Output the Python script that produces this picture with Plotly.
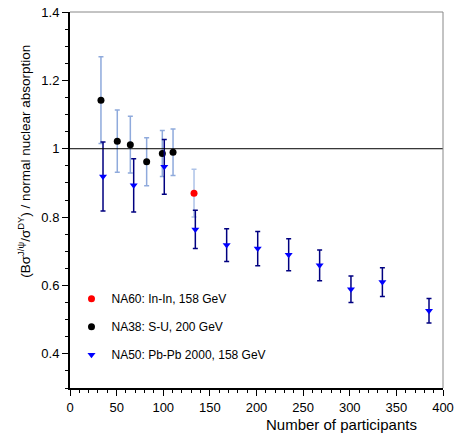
import plotly.graph_objects as go

# NA38: S-U, 200 GeV
na38_x = [33.2, 50.7, 64.7, 82.2, 99.0, 110.5]
na38_y = [1.142, 1.022, 1.012, 0.962, 0.986, 0.990]
na38_err = [0.127, 0.091, 0.083, 0.070, 0.067, 0.068]

# NA60: In-In, 158 GeV
na60_x = [133.0]
na60_y = [0.870]
na60_err = [0.070]

# NA50: Pb-Pb 2000, 158 GeV
na50_x = [35.4, 68.3, 101.1, 134.4, 168.0, 201.3, 234.5, 267.7, 301.3, 335.0, 385.0]
na50_y = [0.919, 0.893, 0.947, 0.764, 0.718, 0.708, 0.690, 0.659, 0.589, 0.610, 0.526]
na50_err = [0.101, 0.078, 0.080, 0.056, 0.048, 0.050, 0.047, 0.045, 0.039, 0.042, 0.036]

y_ticks = [0.4, 0.6, 0.8, 1.0, 1.2, 1.4]
y_tick_text = ["0.4", "0.6", "0.8", "1", "1.2", "1.4"]
x_ticks = [0, 50, 100, 150, 200, 250, 300, 350, 400]

FONT = "Liberation Sans, Arial, sans-serif"

fig = go.Figure()

fig.add_trace(go.Scatter(
    x=na38_x, y=na38_y, mode="markers", name="NA38: S-U, 200 GeV",
    legendgroup="b", legendrank=2,
    marker=dict(symbol="circle", size=7, color="black"),
    error_y=dict(type="data", array=na38_err, color="#8faadc", thickness=1.5, width=2.5),
))
fig.add_trace(go.Scatter(
    x=na60_x, y=na60_y, mode="markers", name="NA60: In-In, 158 GeV",
    legendgroup="a", legendrank=1,
    marker=dict(symbol="circle", size=7, color="#ff0000"),
    error_y=dict(type="data", array=na60_err, color="#aec3e8", thickness=1.5, width=2.5),
))
fig.add_trace(go.Scatter(
    x=na50_x, y=na50_y, mode="markers", name="NA50: Pb-Pb 2000, 158 GeV",
    legendgroup="c", legendrank=3,
    marker=dict(symbol="triangle-down", size=7, color="#0000ff"),
    error_y=dict(type="data", array=na50_err, color="#000080", thickness=1.5, width=2.5),
))

fig.add_shape(type="line", xref="paper", yref="y", x0=0, x1=1, y0=1, y1=1,
              line=dict(color="black", width=1))
# top and right frame
fig.add_shape(type="line", xref="paper", yref="paper", x0=0, x1=1, y0=1, y1=1,
              line=dict(color="#888888", width=1))
fig.add_shape(type="line", xref="paper", yref="paper", x0=1, x1=1, y0=0, y1=1,
              line=dict(color="#888888", width=1))

fig.add_annotation(text="Number of participants", xref="paper", yref="paper",
                   x=0.728, y=-0.098, xanchor="center", yanchor="middle",
                   showarrow=False, font=dict(size=15, family=FONT))
fig.add_annotation(text="(Bσ<sup>J/ψ</sup>/σ<sup>DY</sup>) / normal nuclear absorption",
                   xref="paper", yref="paper", x=-0.123, y=0.602,
                   xanchor="center", yanchor="middle", textangle=-90,
                   showarrow=False, font=dict(size=13.5, family=FONT))

fig.update_layout(
    width=455, height=439,
    margin=dict(l=70, r=12, t=12, b=51),
    paper_bgcolor="white", plot_bgcolor="white",
    font=dict(family=FONT, color="black", size=13),
    showlegend=True,
    legend=dict(x=0.004, y=0.276, xanchor="left", yanchor="top",
                bgcolor="rgba(0,0,0,0)", font=dict(size=12, family=FONT),
                traceorder="grouped", tracegroupgap=9, itemwidth=30),
    xaxis=dict(range=[0, 400], tickvals=x_ticks, showgrid=False, zeroline=False,
               automargin=False,
               showline=True, linecolor="black", linewidth=2,
               ticks="outside", ticklen=6, tickwidth=1, tickcolor="black",
               tickfont=dict(size=13),
               minor=dict(dtick=10, ticks="outside", ticklen=3, tickcolor="black")),
    yaxis=dict(range=[0.3, 1.4], tickvals=y_ticks, ticktext=y_tick_text, showgrid=False,
               automargin=False,
               zeroline=False, showline=True, linecolor="black", linewidth=2,
               ticks="outside", ticklen=6, tickwidth=1, tickcolor="black",
               tickfont=dict(size=13),
               minor=dict(dtick=0.05, tick0=0.3, ticks="outside", ticklen=3, tickcolor="black")),
)

fig.write_html("out.html", config={"displayModeBar": False},
               post_script="document.body.style.margin='0';document.body.style.overflow='hidden';")
